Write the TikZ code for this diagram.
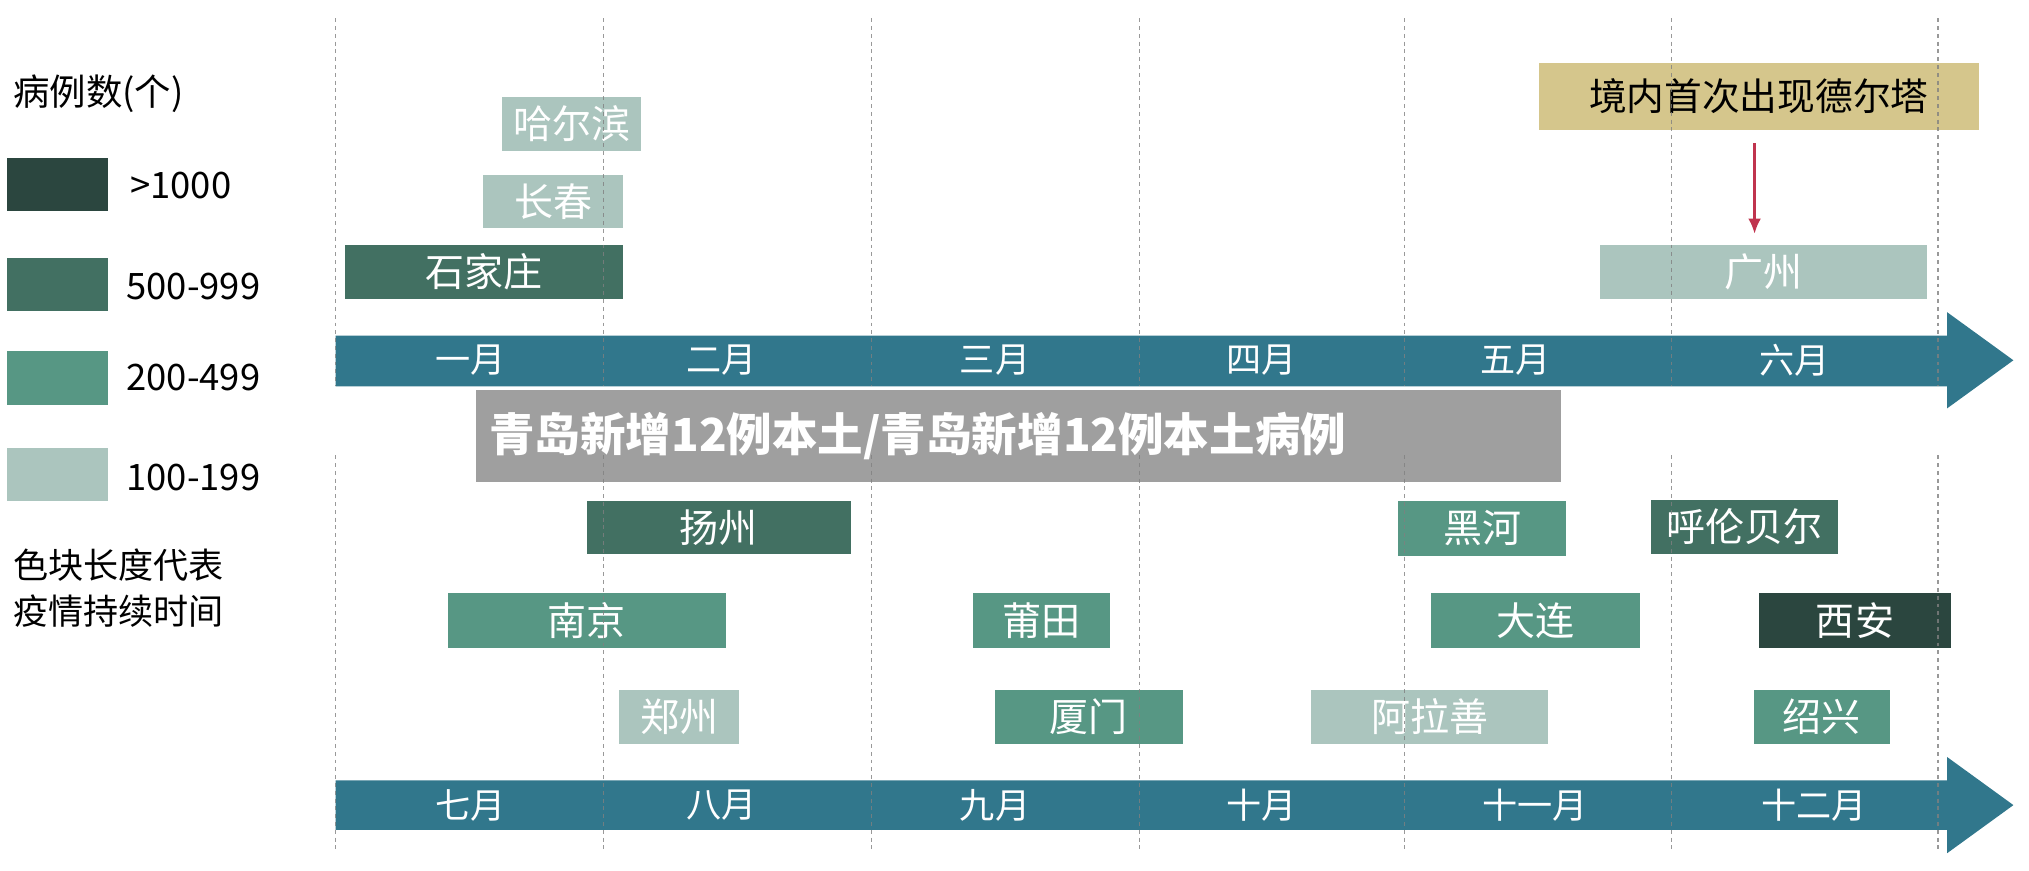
\documentclass[tikz,border=0pt]{standalone}
\usepackage{fontspec}
\usetikzlibrary{arrows.meta}
\setmainfont{Noto Sans CJK SC}
\definecolor{cA}{HTML}{2B463F}
\definecolor{cB}{HTML}{427062}
\definecolor{cC}{HTML}{579784}
\definecolor{cD}{HTML}{ABC5BE}
\definecolor{bar}{HTML}{31778C}
\definecolor{tan}{HTML}{D5C68C}
\definecolor{redar}{HTML}{C0344E}
\begin{document}
\begin{tikzpicture}[x=1pt,y=-1pt,
  bx/.style={anchor=north west,inner sep=0pt,text=white,font=\fontsize{30}{30}\selectfont},
  lg/.style={anchor=north west,inner sep=0pt,minimum width=78pt,minimum height=41pt},
  lt/.style={anchor=west,inner sep=0pt,font=\fontsize{28}{30}\selectfont},
  mo/.style={text=white,font=\fontsize{27}{28}\selectfont,inner sep=0pt},
  dl/.style={dashed,gray,opacity=0.8,line width=0.9pt}]
\useasboundingbox (0,0) rectangle (1560,669);
% legend
\node[lt] (title) at (10,72) {病例数(个)};
\node[lg,fill=cA] (l1) at (5,121) {};
\node[lg,fill=cB] (l2) at (5,198) {};
\node[lg,fill=cC] (l3) at (5,270) {};
\node[lg,fill=cD] (l4) at (5,344) {};
\node[lt] (t1) at (100,143) {>1000};
\node[lt] (t2) at (97,220) {500-999};
\node[lt] (t3) at (97,290) {200-499};
\node[lt] (t4) at (97,367) {100-199};
\node[anchor=north west,inner sep=0pt,align=left,font=\fontsize{27}{35}\selectfont] (note) at (10,422) {色块长度代表\\疫情持续时间};
% arrows
\fill[bar] (258,258) -- (1497,258) -- (1497,240) -- (1548,277) -- (1497,314) -- (1497,297) -- (258,297) -- cycle;
\fill[bar] (258,600) -- (1497,600) -- (1497,582) -- (1548,619) -- (1497,656) -- (1497,638) -- (258,638) -- cycle;
\foreach \t/\x [count=\i] in {一月/362,二月/555,三月/765,四月/970,五月/1165,六月/1380}
  \node[mo] (m\i) at (\x,277) {\t};
\foreach \t/\x [count=\i] in {七月/362,八月/555,九月/765,十月/970,十一月/1180,十二月/1395}
  \node[mo] (n\i) at (\x,619) {\t};
% boxes
\newcommand\mybox[7]{\pgfmathsetmacro\bw{#4-#2}\pgfmathsetmacro\bh{#5-#3}%
  \node[bx,fill=#6,minimum width=\bw pt,minimum height=\bh pt] (#7) at (#2,#3) {#1};}
\mybox{哈尔滨}{386}{74}{493}{116}{cD}{hrb}
\mybox{长春}{371}{134}{479}{175}{cD}{cc}
\mybox{石家庄}{265}{188}{479}{230}{cB}{sjz}
\mybox{广州}{1230}{188}{1481}{230}{cD}{gz}
\mybox{扬州}{451}{385}{654}{426}{cB}{yz}
\mybox{黑河}{1075}{385}{1204}{427}{cC}{hh}
\mybox{呼伦贝尔}{1269}{384}{1413}{426}{cB}{hlbe}
\mybox{南京}{344}{456}{558}{498}{cC}{nj}
\mybox{莆田}{748}{456}{853}{498}{cC}{pt}
\mybox{大连}{1100}{456}{1261}{498}{cC}{dl}
\mybox{西安}{1352}{456}{1500}{498}{cA}{xa}
\mybox{郑州}{476}{530}{568}{572}{cD}{zz}
\mybox{厦门}{765}{530}{909}{572}{cC}{xm}
\mybox{阿拉善}{1008}{530}{1190}{572}{cD}{als}
\mybox{绍兴}{1348}{530}{1453}{572}{cC}{sx}
\node[anchor=north west,inner sep=0pt,fill=tan,minimum width=338pt,minimum height=52pt,font=\fontsize{29}{30}\selectfont] (delta) at (1183,48) {境内首次出现德尔塔};
\coordinate (ae) at (1349,180);
\coordinate (as) at (1349,110);
\draw[redar,line width=2.5pt,-{Latex[length=12pt,width=10pt]}] (as) -- (ae);
% banner
\node[anchor=north west,inner sep=0pt,fill=gray!75,minimum width=834pt,minimum height=70pt,text=white,font=\fontsize{35}{36}\selectfont\bfseries,text width=814pt,align=left] (ban) at (366,300) {青岛新增12例本土/青岛新增12例本土病例};
% dashed lines
\foreach \x in {258,464,670,876,1080,1285,1490}{
  \draw[dl] (\x,14) -- (\x,297);
  \draw[dl] (\x,350) -- (\x,655);}
\end{tikzpicture}
\end{document}
